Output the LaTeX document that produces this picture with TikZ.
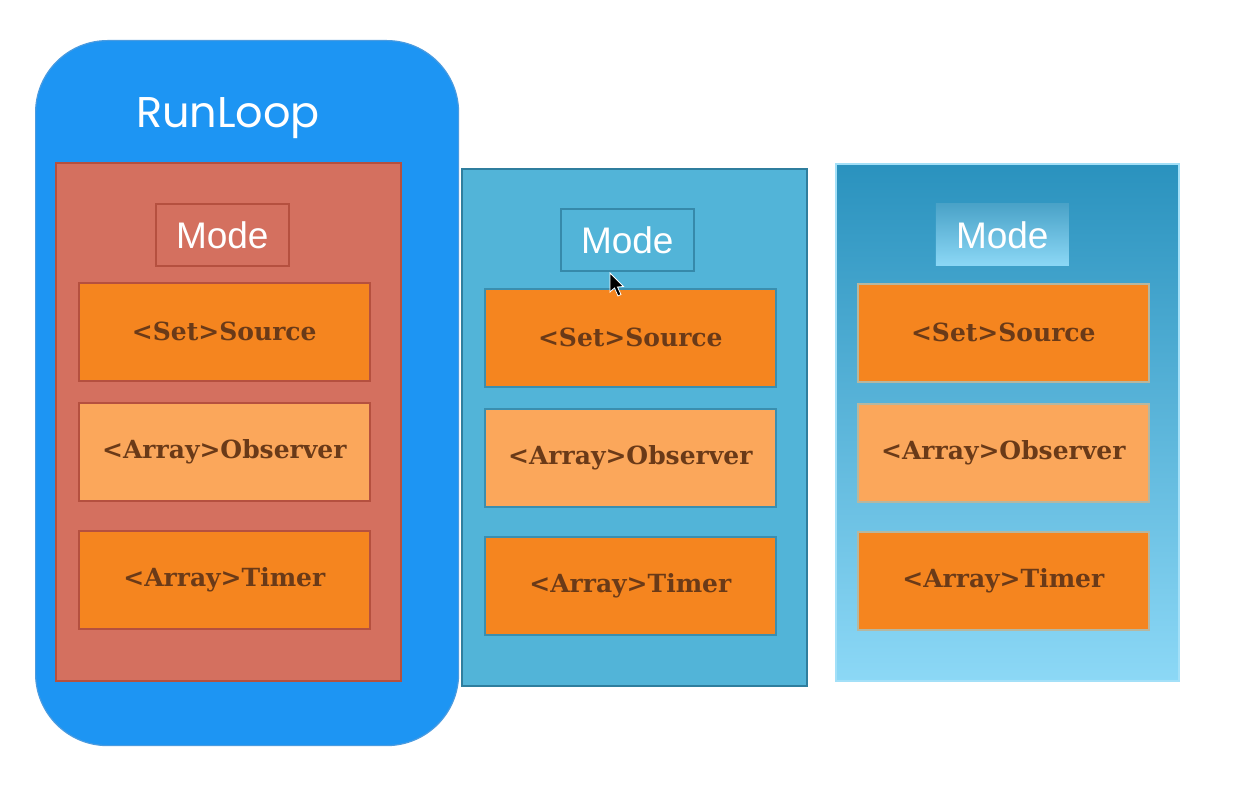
\documentclass[tikz,border=0pt]{standalone}
\usepackage{fontspec}
\setmainfont{Liberation Sans}
\newfontfamily\slabfont{DejaVu Serif}
\newfontfamily\titlefont{Poppins}
\definecolor{loopblue}{HTML}{1D95F3}
\definecolor{loopedge}{HTML}{4A9BE0}
\definecolor{modered}{HTML}{D4705F}
\definecolor{rededge}{HTML}{B5503F}
\definecolor{panelblue}{HTML}{52B4D8}
\definecolor{paneledge}{HTML}{2F7E9E}
\definecolor{srcorange}{HTML}{F5851F}
\definecolor{obsorange}{HTML}{FBA75B}
\definecolor{labelbrown}{HTML}{6A3A18}
\definecolor{gradtop}{HTML}{2A92BE}
\definecolor{gradbot}{HTML}{8CD8F6}
\tikzset{
  anchor=north west,
  panel/.style={draw, line width=1.6pt, inner sep=0pt},
  modebox/.style={draw, line width=1.6pt, minimum width=133pt, minimum height=62pt,
    inner sep=0pt, text=white, font=\fontsize{37}{37}\selectfont},
  itembox/.style={draw, line width=1.6pt, minimum width=291pt, minimum height=98pt,
    inner sep=0pt, text=labelbrown, font=\slabfont\bfseries\fontsize{25}{25}\selectfont},
}
\begin{document}
\begin{tikzpicture}[x=1pt,y=-1pt]
  \fill[white] (0,0) rectangle (1234,786);

  % RunLoop container
  \node[draw=loopedge, fill=loopblue, line width=1.2pt, rounded corners=72pt,
        minimum width=423pt, minimum height=705pt, inner sep=0pt] (loop) at (35,40) {};
  \node[anchor=center, text=white, font=\titlefont\fontsize{43}{43}\selectfont] (title) at (228,118) {RunLoop};

  % first mode (current)
  \node[panel, draw=rededge, fill=modered, minimum width=345pt, minimum height=518pt] (m1) at (55,162) {};
  \node[modebox, draw=rededge, fill=modered] (m1mode) at (155,203) {Mode};
  \node[itembox, draw=rededge, fill=srcorange] (m1src) at (78,282) {<Set>Source};
  \node[itembox, draw=rededge, fill=obsorange] (m1obs) at (78,402) {<Array>Observer};
  \node[itembox, draw=rededge, fill=srcorange] (m1tim) at (78,530) {<Array>Timer};

  % second mode
  \node[panel, draw=paneledge, fill=panelblue, minimum width=345pt, minimum height=517pt] (m2) at (461,168) {};
  \node[modebox, draw=paneledge!80!panelblue, fill=panelblue] (m2mode) at (560,208) {Mode};
  \node[itembox, draw=paneledge!70!panelblue, fill=srcorange] (m2src) at (484,288) {<Set>Source};
  \node[itembox, draw=paneledge!70!panelblue, fill=obsorange] (m2obs) at (484,408) {<Array>Observer};
  \node[itembox, draw=paneledge!70!panelblue, fill=srcorange] (m2tim) at (484,536) {<Array>Timer};

  % third mode
  \node[panel, draw=gradbot!80!white, top color=gradtop, bottom color=gradbot,
        minimum width=343pt, minimum height=517pt] (m3) at (835,163) {};
  \node[modebox, draw=none, top color=gradtop!85!white, bottom color=gradbot] (m3mode) at (935,203) {Mode};
  \node[itembox, draw=gradbot!60!srcorange, fill=srcorange] (m3src) at (857,283) {<Set>Source};
  \node[itembox, draw=gradbot!60!srcorange, fill=obsorange] (m3obs) at (857,403) {<Array>Observer};
  \node[itembox, draw=gradbot!60!srcorange, fill=srcorange] (m3tim) at (857,531) {<Array>Timer};

  % mouse pointer
  \filldraw[fill=black, draw=white, line width=0.8pt, shift={(610,273)}]
    (0,0) -- (0,19) -- (4.5,15) -- (8,23) -- (11,21.5) -- (7.5,14) -- (13.5,13.5) -- cycle;
\end{tikzpicture}
\end{document}
